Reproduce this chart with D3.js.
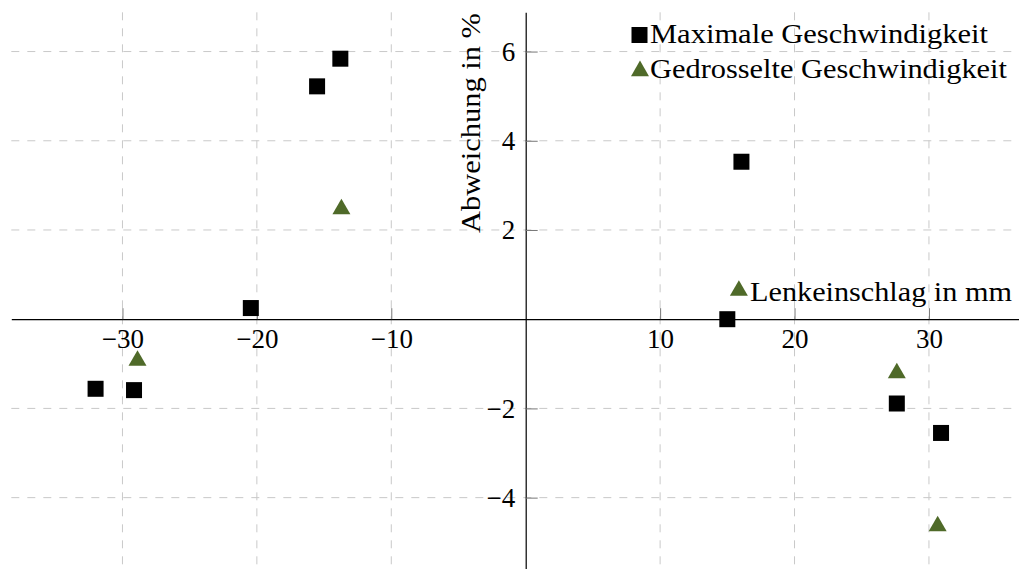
<!DOCTYPE html>
<html>
<head>
<meta charset="utf-8">
<script src="https://cdn.jsdelivr.net/npm/d3@7"></script>
<style>
  body { margin: 0; background: #fff; }
  svg { display: block; }
  svg text { font-family: "Liberation Serif", "DejaVu Serif", serif; }
</style>
</head>
<body>
<svg></svg>
<script>
// Chart size (same as the reference picture)
const width = 1019;
const height = 569;

// Data: Lenkeinschlag (mm) vs. Abweichung (%)
const maxX = [-32.0, -29.14, -20.45, -15.52, -13.79, 15.0, 16.05, 27.61, 30.9];
const maxY = [-1.56, -1.59, 0.25, 5.22, 5.84, 0.0, 3.53, -1.89, -2.55];
const drosX = [-28.88, -13.71, 15.86, 27.61, 30.65];
const drosY = [-0.93, 2.47, 0.64, -1.21, -4.64];

const xTicks = [-30, -20, -10, 10, 20, 30];
const yTicks = [-4, -2, 2, 4, 6];

const seriesNames = ["Maximale Geschwindigkeit", "Gedrosselte Geschwindigkeit"];
const xLabel = "Lenkeinschlag in mm";
const yLabel = "Abweichung in %";

const green = "#4f6a29";
const fontSize = 27;

const svg = d3.select("svg")
    .attr("width", width)
    .attr("height", height)
    .attr("viewBox", [0, 0, width, height]);

// scales (axis lines in the middle, pgfplots style)
const x = d3.scaleLinear([-38.27, 36.7], [11.3, 1019]);
const y = d3.scaleLinear([-5.6, 6.88], [569, 12.3]);

// dashed grid
svg.append("g")
  .selectAll("line")
  .data(xTicks)
  .join("line")
    .attr("x1", d => x(d)).attr("x2", d => x(d))
    .attr("y1", y.range()[1]).attr("y2", y.range()[0])
    .attr("stroke", "#c9c9c9")
    .attr("stroke-dasharray", "8,8");

svg.append("g")
  .selectAll("line")
  .data(yTicks)
  .join("line")
    .attr("x1", x.range()[0]).attr("x2", x.range()[1])
    .attr("y1", d => y(d)).attr("y2", d => y(d))
    .attr("stroke", "#c9c9c9")
    .attr("stroke-dasharray", "8,8");

// x axis
svg.append("g")
    .attr("transform", `translate(0,${y(0)})`)
    .call(d3.axisBottom(x).tickValues(xTicks).tickSize(-11).tickSizeOuter(0).tickPadding(10))
    .call(g => g.attr("font-family", null))
    .call(g => g.select(".domain").attr("stroke", "#000").attr("stroke-width", 1.2))
    .call(g => g.selectAll(".tick line").attr("stroke", "#777"))
    .call(g => g.selectAll(".tick text")
        .attr("font-size", fontSize)
        .attr("fill", "#000"));

// y axis
svg.append("g")
    .attr("transform", `translate(${x(0)},0)`)
    .call(d3.axisLeft(y).tickValues(yTicks).tickSize(-12).tickSizeOuter(0).tickPadding(10.5))
    .call(g => g.attr("font-family", null))
    .call(g => g.select(".domain").attr("stroke", "#000").attr("stroke-width", 1.2))
    .call(g => g.selectAll(".tick line").attr("stroke", "#777"))
    .call(g => g.selectAll(".tick text")
        .attr("font-size", fontSize)
        .attr("fill", "#000"));

// axis labels
svg.append("text")
    .attr("x", 750)
    .attr("y", 301)
    .attr("font-size", fontSize)
    .attr("textLength", 262)
    .attr("lengthAdjust", "spacingAndGlyphs")
    .text(xLabel);

svg.append("text")
    .attr("transform", "translate(480,233) rotate(-90)")
    .attr("font-size", fontSize)
    .attr("textLength", 220)
    .attr("lengthAdjust", "spacingAndGlyphs")
    .text(yLabel);

// marker shapes
const sq = 16;
const tri = d3.symbol(d3.symbolTriangle, 140);

// points
svg.append("g")
  .selectAll("rect")
  .data(maxX.map((d, i) => [d, maxY[i]]))
  .join("rect")
    .attr("x", d => x(d[0]) - sq / 2)
    .attr("y", d => y(d[1]) - sq / 2)
    .attr("width", sq)
    .attr("height", sq)
    .attr("fill", "#000");

svg.append("g")
  .selectAll("path")
  .data(drosX.map((d, i) => [d, drosY[i]]))
  .join("path")
    .attr("transform", d => `translate(${x(d[0])},${y(d[1])})`)
    .attr("d", tri)
    .attr("fill", green);

// legend (no frame)
const legend = svg.append("g");
legend.append("rect")
    .attr("x", 631.5).attr("y", 27)
    .attr("width", sq).attr("height", sq)
    .attr("fill", "#000");
legend.append("text")
    .attr("x", 650).attr("y", 43)
    .attr("font-size", fontSize)
    .attr("textLength", 338)
    .attr("lengthAdjust", "spacingAndGlyphs")
    .text(seriesNames[0]);
legend.append("path")
    .attr("transform", "translate(640,71)")
    .attr("d", tri)
    .attr("fill", green);
legend.append("text")
    .attr("x", 650).attr("y", 78)
    .attr("font-size", fontSize)
    .attr("textLength", 357)
    .attr("lengthAdjust", "spacingAndGlyphs")
    .text(seriesNames[1]);
</script>
</body>
</html>
